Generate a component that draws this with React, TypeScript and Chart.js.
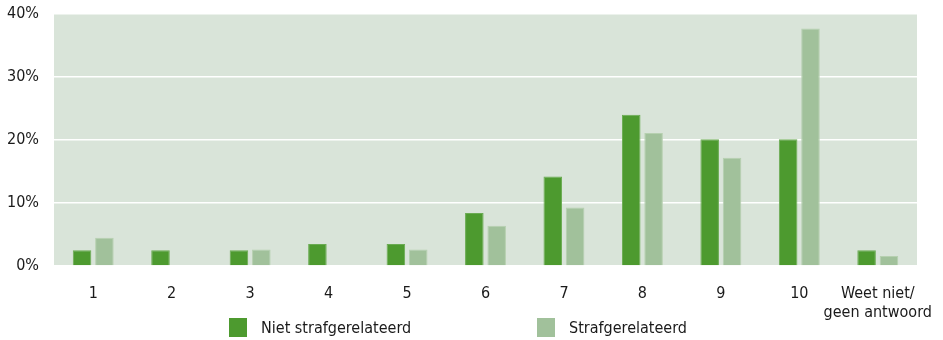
import React, { useEffect, useRef } from "react";
import { Chart, registerables } from "chart.js";

Chart.register(...registerables);

// Rapportcijfer (1-10) plus "weet niet", in procenten
const categories: (string | string[])[] = ["1", "2", "3", "4", "5", "6", "7", "8", "9", "10", ["Weet niet/", "geen antwoord"]];
const nietStrafgerelateerd = [2.5, 2.5, 2.5, 3.5, 3.5, 8.4, 14.2, 24.0, 20.1, 20.1, 2.5];
const strafgerelateerd = [4.5, 0, 2.6, 0, 2.6, 6.4, 9.3, 21.1, 17.2, 37.7, 1.6];
const yTicks = [0, 10, 20, 30, 40];

const seriesNames = ["Niet strafgerelateerd", "Strafgerelateerd"];
const DARK = "#4d9a2f";
const LIGHT = "#a1c19b";
const PLOT_BG = "#d9e4d9";
const FONT = "'DejaVu Sans Condensed', 'DejaVu Sans', sans-serif";

const plotBackground = {
  id: "plotBackground",
  beforeDraw(chart: any) {
    const { ctx, chartArea } = chart;
    ctx.save();
    ctx.fillStyle = PLOT_BG;
    ctx.fillRect(chartArea.left, chartArea.top, chartArea.right - chartArea.left, chartArea.bottom - chartArea.top);
    ctx.restore();
  },
};

export default function App() {
  const canvasRef = useRef<HTMLCanvasElement | null>(null);

  useEffect(() => {
    if (!canvasRef.current) return;
    const chart = new Chart(canvasRef.current, {
      type: "bar",
      data: {
        labels: categories,
        datasets: [
          {
            label: seriesNames[0],
            data: nietStrafgerelateerd,
            backgroundColor: DARK,
            borderColor: "#6aab52",
            borderWidth: 1,
            barPercentage: 0.83,
            categoryPercentage: 0.57,
          },
          {
            label: seriesNames[1],
            data: strafgerelateerd,
            backgroundColor: LIGHT,
            borderColor: "#b6d0b0",
            borderWidth: 1,
            barPercentage: 0.83,
            categoryPercentage: 0.57,
          },
        ],
      },
      options: {
        responsive: false,
        animation: false,
        layout: { padding: { top: 14, right: 26, left: 0, bottom: 0 } },
        plugins: {
          legend: { display: false },
          tooltip: { enabled: false },
        },
        scales: {
          x: {
            grid: { display: false, drawTicks: false },
            border: { display: false },
            ticks: {
              color: "#1a1a1a",
              font: { family: FONT, size: 16 },
              padding: 18,
              maxRotation: 0,
              autoSkip: false,
            },
            afterFit(scale: any) {
              scale.height = 74;
              scale.paddingLeft = 0;
              scale.paddingRight = 0;
            },
          },
          y: {
            min: 0,
            max: 40,
            afterBuildTicks(scale: any) {
              scale.ticks = yTicks.map((v) => ({ value: v }));
            },
            grid: { color: "#ffffff", lineWidth: 1.5, drawTicks: false },
            border: { display: false },
            ticks: {
              color: "#1a1a1a",
              font: { family: FONT, size: 16 },
              padding: 15,
              callback: (v: any) => `${v}%`,
            },
            afterFit(scale: any) {
              scale.width = 54;
              scale.paddingTop = 0;
              scale.paddingBottom = 0;
            },
          },
        },
      },
      plugins: [plotBackground],
    });
    return () => chart.destroy();
  }, []);

  const legendItem = (left: number, color: string, text: string) => (
    <div style={{ position: "absolute", left, top: 318, display: "flex", alignItems: "center" }}>
      <div style={{ width: 18, height: 19, background: color }} />
      <span style={{ marginLeft: 14, fontFamily: FONT, fontSize: 16, color: "#1a1a1a", lineHeight: "19px" }}>{text}</span>
    </div>
  );

  return (
    <div style={{ position: "fixed", left: 0, top: 0, width: 943, height: 340, background: "#ffffff" }}>
      <canvas ref={canvasRef} width={943} height={340} style={{ position: "absolute", left: 0, top: 0 }} />
      {legendItem(229, DARK, seriesNames[0])}
      {legendItem(537, LIGHT, seriesNames[1])}
    </div>
  );
}
